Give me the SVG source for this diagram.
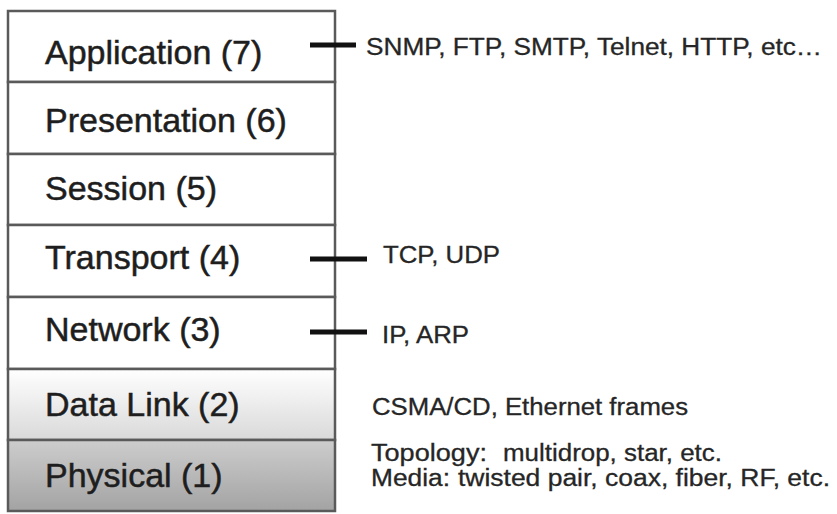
<svg xmlns="http://www.w3.org/2000/svg" width="837" height="514" viewBox="0 0 837 514">
  <defs>
    <linearGradient id="gradDataLink" x1="0" y1="0" x2="0" y2="1">
      <stop offset="0" stop-color="#ffffff"/>
      <stop offset="1" stop-color="#d9d9d9"/>
    </linearGradient>
    <linearGradient id="gradPhysical" x1="0" y1="0" x2="0" y2="1">
      <stop offset="0" stop-color="#cdcdcd"/>
      <stop offset="1" stop-color="#a3a3a3"/>
    </linearGradient>
  </defs>
  <style>
    .layer { stroke: #5a5a5a; stroke-width: 2.5; }
    .label { font-family: "Liberation Sans", Arial, sans-serif; font-size: 34px; fill: #1e1e1e; stroke: #1e1e1e; stroke-width: 0.5; }
    .proto { font-family: "Liberation Sans", Arial, sans-serif; font-size: 23px; fill: #262626; stroke: #262626; stroke-width: 0.3; }
    .tick { stroke: #111; stroke-width: 5; }
  </style>
  <rect width="837" height="514" fill="#ffffff"/>

  <!-- OSI layer stack -->
  <g id="layer7">
    <rect class="layer" x="8" y="11" width="327" height="71" fill="#ffffff"/>
    <text class="label" x="45" y="64">Application (7)</text>
  </g>
  <g id="layer6">
    <rect class="layer" x="8" y="82" width="327" height="72" fill="#ffffff"/>
    <text class="label" x="45" y="132">Presentation (6)</text>
  </g>
  <g id="layer5">
    <rect class="layer" x="8" y="154" width="327" height="71" fill="#ffffff"/>
    <text class="label" x="45" y="200">Session (5)</text>
  </g>
  <g id="layer4">
    <rect class="layer" x="8" y="225" width="327" height="72" fill="#ffffff"/>
    <text class="label" x="45" y="269">Transport (4)</text>
  </g>
  <g id="layer3">
    <rect class="layer" x="8" y="297" width="327" height="72" fill="#ffffff"/>
    <text class="label" x="45" y="341">Network (3)</text>
  </g>
  <g id="layer2">
    <rect class="layer" x="8" y="369" width="327" height="71" fill="url(#gradDataLink)"/>
    <text class="label" x="45" y="416">Data Link (2)</text>
  </g>
  <g id="layer1">
    <rect class="layer" x="8" y="440" width="327" height="71" fill="url(#gradPhysical)"/>
    <text class="label" x="45" y="487">Physical (1)</text>
  </g>

  <!-- connectors from layers to their protocols -->
  <g id="connectors">
    <line class="tick" x1="310" y1="45" x2="356" y2="45"/>
    <line class="tick" x1="310" y1="259" x2="367" y2="259"/>
    <line class="tick" x1="310" y1="332" x2="367" y2="332"/>
  </g>

  <!-- protocol annotations -->
  <g id="protocols">
    <text class="proto" x="366" y="55" textLength="456" lengthAdjust="spacingAndGlyphs">SNMP, FTP, SMTP, Telnet, HTTP, etc…</text>
    <text class="proto" x="383" y="263" textLength="117" lengthAdjust="spacingAndGlyphs">TCP, UDP</text>
    <text class="proto" x="382" y="343" textLength="87" lengthAdjust="spacingAndGlyphs">IP, ARP</text>
    <text class="proto" x="372" y="415" textLength="316" lengthAdjust="spacingAndGlyphs">CSMA/CD, Ethernet frames</text>
    <text class="proto" x="371" y="461" textLength="116" lengthAdjust="spacingAndGlyphs">Topology:</text>
    <text class="proto" x="503" y="461" textLength="219" lengthAdjust="spacingAndGlyphs">multidrop, star, etc.</text>
    <text class="proto" x="371" y="486" textLength="79" lengthAdjust="spacingAndGlyphs">Media:</text>
    <text class="proto" x="458" y="486" textLength="372" lengthAdjust="spacingAndGlyphs">twisted pair, coax, fiber, RF, etc.</text>
  </g>
</svg>
